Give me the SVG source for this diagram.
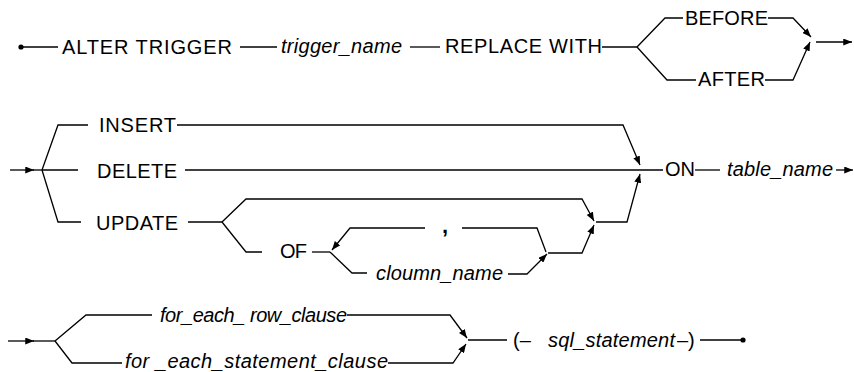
<svg xmlns="http://www.w3.org/2000/svg" width="854" height="372" viewBox="0 0 854 372">
<style>
text{font-family:"Liberation Sans",Arial,sans-serif;font-size:20px;fill:#000}
.i{font-style:italic}
.c path,.c line{fill:none;stroke:#000;stroke-width:1.3}
.arr path{marker-end:url(#ah)}
</style>
<defs>
<marker id="ah" viewBox="0 0 10 8" refX="10" refY="4" markerWidth="9" markerHeight="7" markerUnits="userSpaceOnUse" orient="auto"><path d="M0,0 L10,4 L0,8 z" fill="#000"/></marker>
</defs>
<rect width="854" height="372" fill="#fff"/>
<g class="c" id="connectors">
<circle cx="21" cy="47" r="2.6" fill="#000"/>
<path d="M21,47 H58"/>
<path d="M240,47 H277"/>
<path d="M410,47 H440"/>
<path d="M602,47 H637"/>
<path d="M637,47 L665,18 H683"/>
<path d="M637,47 L667,80 H696"/>
<g class="arr">
<path d="M768,18 H793 L811,37"/>
<path d="M765,80 H793 L810,42"/>
<path d="M816,42 H852"/>
<path d="M10,170 H34"/>
<path d="M177,125 H623 L640,165"/>
<path d="M222,222 L246,199 H582 L594,221"/>
<path d="M425,228 H350 L332,250"/>
<path d="M508,274 H527 L547,254"/>
<path d="M548,253 H582 L594,225"/>
<path d="M596,222 H627 L640,174"/>
<path d="M836,170 H853"/>
<path d="M8,341 H34"/>
<path d="M347,315 H450 L467,338"/>
<path d="M388,363 H453 L466,344"/>
</g>
<path d="M33,170 H42"/>
<path d="M42,170 L58,125 H88"/>
<path d="M42,170 H78"/>
<path d="M185,170 H663"/>
<path d="M42,170 L58,222 H81"/>
<path d="M188,222 H222"/>
<path d="M222,222 L246,252 H262"/>
<path d="M312,252 H330"/>
<path d="M546,252 L537,228 H462"/>
<path d="M330,252 L352,273 H367"/>
<path d="M695,170 H720"/>
<path d="M33,341 H55"/>
<path d="M55,341 L86,315 H152"/>
<path d="M55,341 L72,363 H122"/>
<path d="M468,340 H507"/>
<path d="M700,340 H742"/>
<circle cx="743" cy="340" r="2.6" fill="#000"/>
</g>
<g id="alter_trigger"><text x="62" y="54" textLength="170" lengthAdjust="spacing">ALTER TRIGGER</text></g>
<g id="trigger_name"><text class="i" x="281" y="53" textLength="121" lengthAdjust="spacing">trigger_name</text></g>
<g id="replace_with"><text x="445" y="53" textLength="157" lengthAdjust="spacing">REPLACE WITH</text></g>
<g id="before"><text x="685" y="25" textLength="83" lengthAdjust="spacing">BEFORE</text></g>
<g id="after"><text x="698" y="86" textLength="67" lengthAdjust="spacing">AFTER</text></g>
<g id="insert"><text x="99" y="132" textLength="77" lengthAdjust="spacing">INSERT</text></g>
<g id="delete"><text x="97" y="178" textLength="80" lengthAdjust="spacing">DELETE</text></g>
<g id="update"><text x="96" y="230" textLength="82" lengthAdjust="spacing">UPDATE</text></g>
<g id="of"><text x="280" y="258" textLength="27" lengthAdjust="spacing">OF</text></g>
<g id="comma"><text x="442" y="233" style="font-weight:bold;font-size:22px">,</text></g>
<g id="cloumn_name"><text class="i" x="376" y="280" textLength="127" lengthAdjust="spacing">cloumn_name</text></g>
<g id="on"><text x="665" y="176" textLength="30" lengthAdjust="spacing">ON</text></g>
<g id="table_name"><text class="i" x="727" y="176" textLength="106" lengthAdjust="spacing">table_name</text></g>
<g id="for_each_row_clause"><text class="i" x="160" y="322" textLength="187" lengthAdjust="spacing">for_each_ row_clause</text></g>
<g id="for_each_statement_clause"><text class="i" x="125" y="368" textLength="263" lengthAdjust="spacing">for _each_statement_clause</text></g>
<g id="sql_statement"><text x="513" y="347">(–</text><text class="i" x="548" y="347" textLength="127" lengthAdjust="spacing">sql_statement</text><text x="677" y="347">–)</text></g>
</svg>
